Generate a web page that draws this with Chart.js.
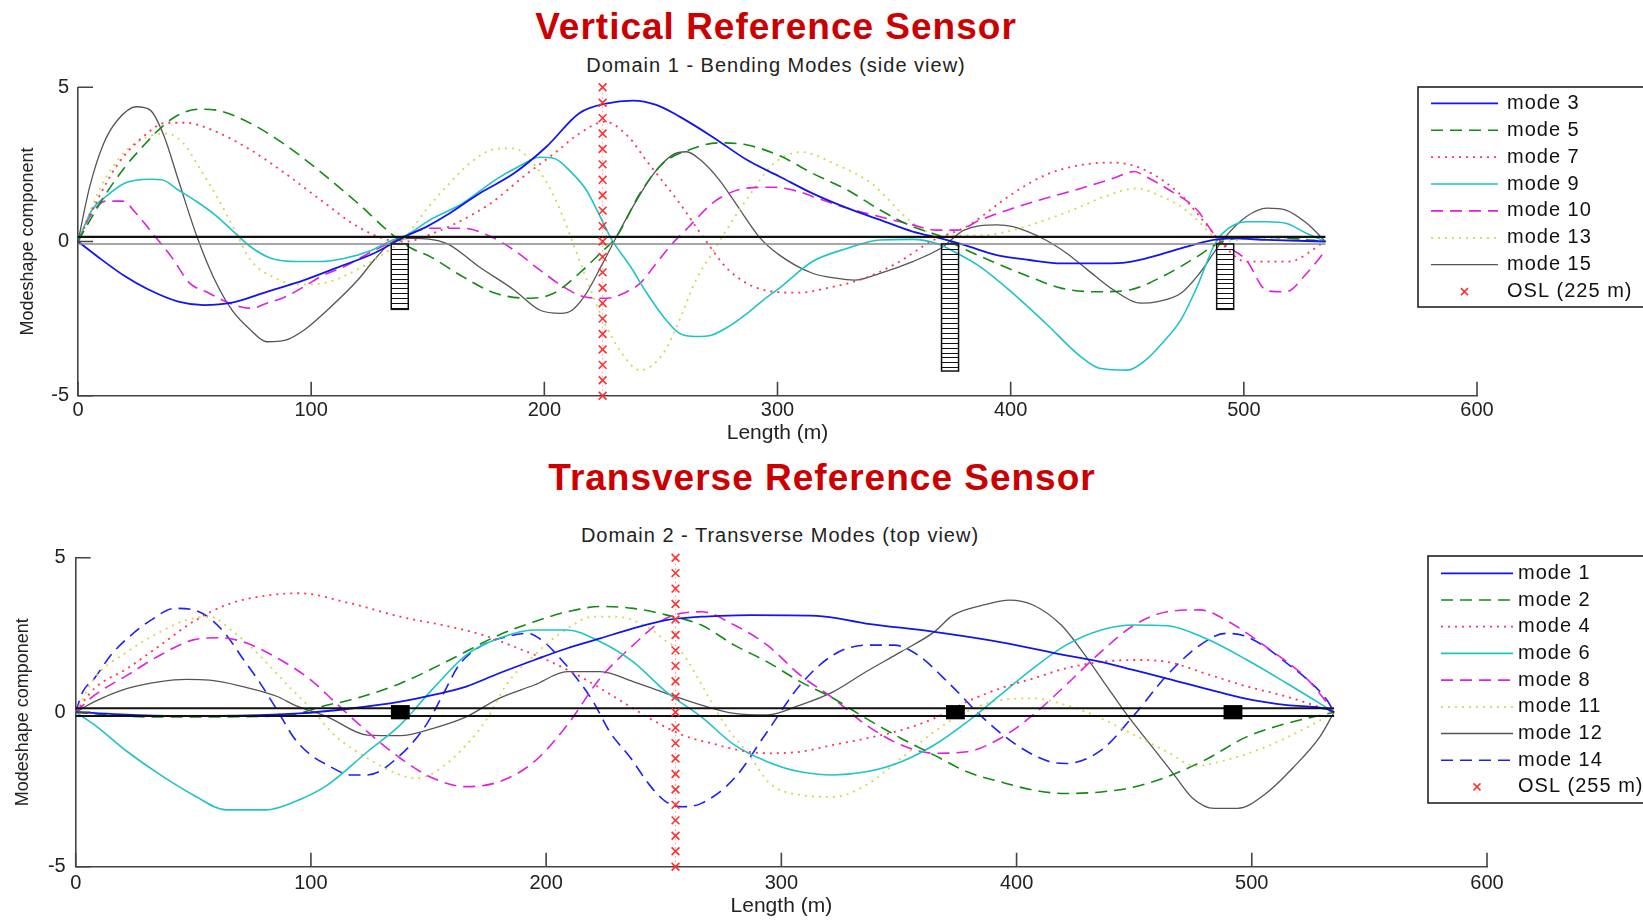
<!DOCTYPE html>
<html lang="en">
<head>
<meta charset="UTF-8">
<title>Reference Sensor Modeshapes</title>
<script src="https://cdn.jsdelivr.net/npm/chart.js"></script>
<style>
    body {
        margin: 0;
        width: 1643px;
        height: 920px;
        overflow: hidden;
        background: #fff;
        position: relative;
        font-family: 'Liberation Sans', Arial, sans-serif;
    }
    .title {
        position: absolute;
        transform: translateX(-50%);
        white-space: nowrap;
        color: #cc0000;
        font-weight: bold;
        font-size: 37px;
        line-height: 37px;
        letter-spacing: 1px;
    }
    .sub {
        position: absolute;
        transform: translateX(-50%);
        white-space: nowrap;
        color: #222;
        font-size: 20px;
        line-height: 20px;
        letter-spacing: 1px;
    }
    canvas { position: absolute; left: 0; }
</style>
</head>
<body>
<div class="title" style="left:776px; top:8px">Vertical Reference Sensor</div>
<div class="sub" style="left:776px; top:55px">Domain 1 - Bending Modes (side view)</div>
<div class="title" style="left:822px; top:459px">Transverse Reference Sensor</div>
<div class="sub" style="left:780px; top:525px">Domain 2 - Transverse Modes (top view)</div>
<canvas id="topChart" width="1643" height="460" style="top:0"></canvas>
<canvas id="bottomChart" width="1643" height="460" style="top:460px"></canvas>

<script>
// ---- Domain 1 (vertical / bending) ----
const m3x = [0, 10, 20, 30, 43, 54, 66, 81, 97, 112, 127, 140, 150, 158, 172, 187, 201, 215, 227, 238, 248, 258, 272, 287, 301, 315, 330, 344, 358, 370, 380, 394, 408, 422, 436, 448, 458, 473, 487, 495, 510, 535];
const m3y = [0, -0.58, -1.12, -1.55, -1.95, -2.06, -1.98, -1.63, -1.25, -0.82, -0.38, 0.15, 0.5, 0.85, 1.55, 2.21, 3.08, 4.16, 4.48, 4.57, 4.43, 4.05, 3.4, 2.64, 2.1, 1.56, 1.08, 0.7, 0.32, 0.1, -0.11, -0.44, -0.6, -0.71, -0.71, -0.69, -0.55, -0.22, 0.05, 0.1, 0.05, 0];

const m5x = [0, 6, 12, 20, 28, 36, 43, 52, 60, 74, 89, 104, 120, 135, 143, 151, 165, 179, 194, 204, 215, 224, 231, 241, 251, 262, 275, 287, 301, 315, 330, 344, 358, 370, 378, 394, 408, 422, 437, 451, 465, 480, 489, 505, 520, 535];
const m5y = [0, 0.8, 1.55, 2.4, 3.1, 3.72, 4.1, 4.29, 4.25, 3.83, 3.13, 2.26, 1.24, 0.21, -0.22, -0.49, -1.14, -1.68, -1.84, -1.68, -1.03, -0.38, 0.16, 1.56, 2.54, 2.97, 3.2, 3.13, 2.78, 2.21, 1.67, 1.02, 0.48, 0.16, -0.17, -0.71, -1.14, -1.52, -1.63, -1.57, -1.14, -0.49, -0.06, 0.15, 0.1, 0];

const m7x = [0, 8, 17, 28, 38, 46, 58, 74, 89, 104, 120, 133, 141, 150, 162, 177, 191, 205, 215, 226, 236, 244, 258, 269, 279, 294, 309, 322, 337, 351, 367, 381, 401, 415, 430, 444, 458, 473, 480, 487, 491, 501, 519, 535];
const m7y = [0, 1.3, 2.5, 3.4, 3.85, 3.85, 3.6, 2.97, 2.2, 1.35, 0.48, 0.05, 0, 0.2, 0.59, 1.24, 2.1, 2.9, 3.5, 3.88, 3.4, 2.6, 1.24, 0.05, -0.92, -1.57, -1.66, -1.5, -1.2, -0.71, 0.05, 0.48, 1.56, 2.16, 2.48, 2.56, 2.3, 1.51, 0.91, 0.26, -0.1, -0.65, -0.65, 0];

const m9x = [0, 6, 12, 20, 31, 36, 43, 51, 58, 66, 74, 83, 94, 104, 114, 126, 135, 141, 151, 165, 179, 189, 198, 204, 212, 218, 224, 229, 237, 244, 251, 258, 265, 272, 279, 287, 294, 301, 315, 330, 344, 358, 368, 377, 387, 401, 415, 430, 438, 450, 458, 465, 473, 480, 487, 491, 501, 510, 518, 527, 535];
const m9y = [0, 1.02, 1.46, 1.89, 2.02, 2.0, 1.67, 1.29, 0.91, 0.37, -0.17, -0.55, -0.65, -0.65, -0.55, -0.28, 0.05, 0.21, 0.7, 1.24, 2.0, 2.43, 2.73, 2.7, 2.21, 1.67, 0.8, 0.05, -0.82, -1.68, -2.43, -2.98, -3.08, -3.03, -2.76, -2.33, -1.89, -1.5, -0.65, -0.22, 0.05, 0.07, -0.06, -0.38, -0.82, -1.68, -2.65, -3.73, -4.11, -4.17, -3.84, -3.3, -2.54, -1.46, -0.17, 0.27, 0.64, 0.64, 0.59, 0.26, 0];

const m10x = [0, 5, 12, 19, 25, 32, 40, 48, 55, 65, 74, 81, 89, 97, 104, 114, 126, 135, 143, 151, 165, 177, 187, 198, 208, 217, 227, 234, 241, 248, 255, 262, 272, 279, 287, 298, 309, 315, 330, 344, 358, 368, 377, 387, 401, 415, 430, 444, 453, 458, 468, 480, 487, 491, 501, 510, 518, 527, 535];
const m10y = [0, 0.8, 1.31, 1.31, 0.91, 0.26, -0.49, -1.36, -1.63, -2.0, -2.17, -2.0, -1.79, -1.46, -1.14, -0.82, -0.33, 0, 0.27, 0.43, 0.43, 0.16, -0.28, -0.92, -1.46, -1.79, -1.84, -1.68, -1.36, -0.71, -0.06, 0.48, 1.24, 1.56, 1.73, 1.76, 1.62, 1.46, 1.08, 0.8, 0.54, 0.37, 0.37, 0.7, 1.08, 1.4, 1.72, 2.05, 2.27, 2.1, 1.67, 1.02, 0.26, -0.06, -0.6, -1.6, -1.63, -1.03, -0.3];

const m13x = [0, 10, 20, 30, 38, 45, 52, 60, 67, 74, 85, 95, 108, 120, 130, 140, 148, 158, 169, 179, 187, 194, 202, 208, 212, 218, 225, 233, 241, 251, 258, 265, 272, 279, 288, 298, 310, 325, 340, 358, 370, 387, 400, 415, 430, 440, 454, 465, 473, 480, 487, 491, 505, 520, 535];
const m13y = [0, 1.8, 2.9, 3.4, 3.5, 3.2, 2.4, 1.4, 0.4, -0.6, -1.2, -1.4, -1.3, -0.9, -0.45, 0.1, 0.9, 1.78, 2.6, 3.0, 3.02, 2.64, 1.78, 0.8, 0, -1.2, -2.5, -3.6, -4.17, -3.63, -2.54, -1.25, -0.38, 0.48, 1.5, 2.5, 2.9, 2.5, 1.9, 0.6, 0.2, 0.2, 0.35, 0.7, 1.13, 1.45, 1.72, 1.45, 1.13, 0.7, 0.16, 0, 0.1, 0.1, 0];

const m15x = [0, 5, 11, 17, 25, 31, 37, 43, 51, 58, 66, 74, 81, 89, 97, 107, 120, 127, 135, 143, 158, 172, 187, 198, 207, 212, 218, 225, 231, 238, 247, 255, 261, 267, 275, 284, 292, 301, 315, 325, 333, 344, 358, 370, 380, 394, 401, 415, 424, 433, 444, 456, 463, 473, 481, 487, 491, 501, 510, 518, 527, 535];
const m15y = [0, 1.77, 3.18, 3.94, 4.37, 4.26, 3.4, 2.0, 0.16, -1.14, -2.22, -2.87, -3.25, -3.2, -2.87, -2.22, -1.25, -0.6, 0, 0.1, -0.06, -0.82, -1.57, -2.22, -2.33, -2.22, -1.68, -0.71, 0.16, 1.13, 2.21, 2.81, 2.91, 2.64, 2.0, 1.02, 0.16, -0.45, -1.03, -1.19, -1.25, -1.03, -0.65, -0.22, 0.37, 0.54, 0.48, 0.05, -0.38, -0.92, -1.57, -2.0, -1.95, -1.68, -1.03, -0.38, 0.05, 0.8, 1.08, 1.02, 0.59, 0];

// ---- Domain 2 (transverse) ----
const m1x = [0, 30, 60, 95, 117, 138, 152, 166, 180, 195, 209, 223, 237, 251, 266, 274, 287, 315, 336, 365, 393, 421, 436, 450, 464, 487, 500, 515, 532, 535];
const m1y = [0, -0.1, -0.12, -0.04, 0.12, 0.34, 0.56, 0.83, 1.26, 1.69, 2.07, 2.39, 2.71, 2.98, 3.09, 3.12, 3.14, 3.12, 2.87, 2.6, 2.27, 1.84, 1.63, 1.36, 1.09, 0.63, 0.4, 0.23, 0.1, 0];

const m2x = [0, 30, 60, 90, 107, 117, 138, 159, 180, 195, 209, 223, 237, 251, 266, 280, 294, 308, 322, 336, 351, 365, 379, 393, 407, 421, 436, 450, 464, 480, 498, 515, 535];
const m2y = [0, -0.15, -0.15, -0.1, 0.23, 0.4, 0.93, 1.69, 2.5, 2.93, 3.25, 3.42, 3.36, 3.15, 2.82, 2.17, 1.63, 0.99, 0.45, -0.2, -0.85, -1.39, -1.93, -2.25, -2.52, -2.63, -2.58, -2.42, -2.09, -1.55, -0.79, -0.36, 0];

const m4x = [0, 8, 22, 36, 50, 64, 78, 95, 117, 138, 159, 173, 188, 202, 216, 230, 244, 258, 273, 280, 294, 308, 322, 336, 351, 365, 379, 393, 407, 421, 436, 450, 464, 480, 498, 515, 535];
const m4y = [0, 0.77, 1.42, 2.17, 2.93, 3.47, 3.74, 3.85, 3.52, 3.09, 2.77, 2.5, 2.07, 1.63, 1.09, 0.45, -0.2, -0.74, -1.06, -1.2, -1.33, -1.28, -1.06, -0.85, -0.58, -0.2, 0.34, 0.77, 1.09, 1.42, 1.63, 1.69, 1.63, 1.26, 0.83, 0.5, 0];

const m6x = [0, 8, 22, 36, 50, 64, 81, 93, 107, 124, 138, 152, 166, 180, 195, 209, 223, 237, 251, 266, 280, 294, 308, 322, 336, 351, 365, 379, 393, 407, 421, 436, 450, 464, 480, 498, 515, 535];
const m6y = [0, -0.41, -1.28, -2.03, -2.68, -3.16, -3.16, -2.9, -2.36, -1.28, -0.41, 0.77, 1.85, 2.39, 2.66, 2.66, 2.28, 1.63, 0.66, -0.15, -1.06, -1.6, -1.93, -2.03, -1.93, -1.6, -1.06, -0.31, 0.55, 1.42, 2.17, 2.66, 2.82, 2.8, 2.4, 1.69, 0.93, 0];

const m8x = [0, 8, 22, 36, 50, 61, 71, 86, 100, 110, 124, 138, 152, 166, 180, 195, 209, 223, 237, 251, 266, 280, 294, 308, 322, 336, 351, 365, 379, 393, 407, 421, 436, 450, 464, 478, 489, 506, 524, 535];
const m8y = [0, 0.55, 1.2, 1.85, 2.34, 2.41, 2.28, 1.74, 1.04, 0.34, -0.63, -1.49, -2.14, -2.41, -2.25, -1.6, -0.41, 1.1, 2.17, 3.04, 3.25, 2.82, 2.17, 1.2, 0.45, -0.41, -1.06, -1.33, -1.28, -0.85, -0.09, 0.88, 1.96, 2.82, 3.25, 3.31, 2.98, 2.12, 1.04, 0];

const m11x = [0, 8, 22, 36, 47, 57, 67, 78, 90, 100, 110, 124, 138, 145, 155, 166, 175, 183, 195, 209, 220, 230, 244, 251, 258, 266, 276, 286, 295, 308, 322, 336, 351, 365, 379, 393, 407, 421, 436, 450, 464, 476, 489, 506, 524, 535];
const m11y = [0, 1.1, 1.96, 2.6, 2.98, 3.09, 2.6, 1.85, 0.88, 0.12, -0.74, -1.49, -2.03, -2.14, -1.82, -1.06, -0.2, 0.88, 1.85, 2.71, 3.09, 3.09, 2.71, 2.3, 1.9, 0.9, -0.4, -1.35, -2.3, -2.68, -2.74, -2.36, -1.49, -0.63, 0.02, 0.39, 0.45, 0.23, -0.2, -0.74, -1.28, -1.74, -1.55, -1.12, -0.47, 0];

const m12x = [0, 8, 22, 36, 47, 57, 71, 86, 93, 107, 124, 138, 152, 166, 180, 195, 209, 223, 237, 251, 266, 280, 294, 308, 322, 336, 351, 365, 373, 386, 397, 407, 419, 428, 438, 447, 457, 467, 475, 484, 494, 506, 518, 529, 535];
const m12y = [0, 0.34, 0.77, 0.99, 1.06, 1.04, 0.83, 0.5, 0.23, -0.15, -0.74, -0.76, -0.52, -0.15, 0.45, 0.88, 1.31, 1.31, 0.99, 0.61, 0.23, -0.04, -0.09, 0.23, 0.66, 1.31, 1.96, 2.6, 3.14, 3.47, 3.63, 3.47, 2.82, 1.96, 0.88, -0.09, -1.06, -2.03, -2.79, -3.11, -3.11, -2.63, -1.76, -0.79, 0];

const m14x = [0, 3, 8, 15, 22, 32, 42, 50, 57, 64, 71, 78, 86, 93, 100, 107, 117, 124, 138, 149, 156, 163, 173, 183, 192, 199, 206, 213, 220, 227, 236, 244, 251, 258, 266, 280, 294, 308, 322, 336, 348, 358, 372, 386, 400, 414, 421, 436, 450, 464, 478, 489, 498, 515, 532, 535];
const m14y = [0, 0.66, 1.1, 1.85, 2.39, 2.98, 3.36, 3.31, 3.04, 2.5, 1.74, 0.99, 0.02, -0.85, -1.39, -1.71, -2.03, -2.03, -1.39, -0.41, 0.55, 1.53, 2.17, 2.44, 2.55, 2.28, 1.74, 1.1, 0.34, -0.63, -1.49, -2.36, -2.9, -3.06, -2.95, -2.14, -0.63, 0.88, 1.85, 2.17, 2.17, 1.85, 0.88, -0.2, -1.06, -1.6, -1.66, -1.23, -0.09, 1.2, 2.17, 2.55, 2.44, 1.58, 0.39, 0];

// sensor location markers, deck and piers
const oslY = [-5, -4.5, -4, -3.5, -3, -2.5, -2, -1.5, -1, -0.5, 0, 0.5, 1, 1.5, 2, 2.5, 3, 3.5, 4, 4.5, 5];
const oslTop = 225;
const oslBottom = 255;
const deckX = [0, 535];
const deckTopUpper = [0.15, 0.15];
const deckTopLower = [-0.08, -0.08];
const deckBotUpper = [0.125, 0.125];
const deckBotLower = [-0.125, -0.125];
const pierX = [138, 374, 492];
const pierDepth = [-2.2, -4.2, -2.2];

const topLabels = ['mode 3', 'mode 5', 'mode 7', 'mode 9', 'mode 10', 'mode 13', 'mode 15', 'OSL (225 m)'];
const bottomLabels = ['mode 1', 'mode 2', 'mode 4', 'mode 6', 'mode 8', 'mode 11', 'mode 12', 'mode 14', 'OSL (255 m)'];

// line styles (matlab-ish)
const STY = {
    blue:    { color: '#1414ee', dash: [], width: 1.8 },
    green:   { color: '#138a13', dash: [12, 7], width: 1.6 },
    red:     { color: '#ff3355', dash: [2, 5], width: 1.8 },
    cyan:    { color: '#1fc4c4', dash: [], width: 1.6 },
    magenta: { color: '#dd22dd', dash: [12, 7], width: 1.6 },
    yellow:  { color: '#d6d650', dash: [2, 5], width: 1.8 },
    gray:    { color: '#555555', dash: [], width: 1.3 },
    blueDash:{ color: '#2020ee', dash: [12, 7], width: 1.6 }
};

Chart.defaults.font.family = "'Liberation Sans', Arial, sans-serif";
Chart.defaults.color = '#222';

const pts = (xs, ys) => xs.map((x, i) => ({ x: x, y: ys[i] }));

function modeSet(label, xs, ys, s) {
    return {
        label: label, data: pts(xs, ys),
        borderColor: s.color, borderWidth: s.width, borderDash: s.dash,
        pointRadius: 0, fill: false, cubicInterpolationMode: 'monotone', order: 2
    };
}

function deckSet(ys, color, width) {
    return { data: pts(deckX, ys), borderColor: color, borderWidth: width, pointRadius: 0, tension: 0, fill: false, order: 1 };
}

function oslSet(label, pos) {
    return {
        label: label, markerOnly: true,
        data: oslY.map(v => ({ x: pos, y: v })),
        borderColor: 'rgba(255,70,70,0.55)', borderWidth: 1, borderDash: [1.5, 3], tension: 0,
        pointStyle: 'crossRot', pointRadius: 5.5, pointBorderColor: '#ff3030', pointBorderWidth: 1.6,
        pointBackgroundColor: '#ff3030', clip: false, fill: false, order: 0
    };
}

// inward matlab tick marks
const inTicks = {
    id: 'inTicks',
    afterDraw(chart) {
        const { ctx, chartArea: a, scales: { x, y } } = chart;
        ctx.save();
        ctx.strokeStyle = '#444';
        ctx.lineWidth = 1.6;
        ctx.beginPath();
        x.ticks.forEach(t => {
            const px = x.getPixelForValue(t.value);
            ctx.moveTo(px, a.bottom);
            ctx.lineTo(px, a.bottom - 14);
        });
        y.ticks.forEach(t => {
            const py = y.getPixelForValue(t.value);
            ctx.moveTo(a.left, py);
            ctx.lineTo(a.left + 15, py);
        });
        ctx.stroke();
        ctx.restore();
    }
};

// bridge piers
const piers = {
    id: 'piers',
    afterDatasetsDraw(chart, args, o) {
        const { ctx, scales: { x, y } } = chart;
        ctx.save();
        ctx.strokeStyle = '#111';
        ctx.fillStyle = '#000';
        o.xs.forEach((p, i) => {
            const l = x.getPixelForValue(p - o.half);
            const r = x.getPixelForValue(p + o.half);
            if (o.block) {
                const t = y.getPixelForValue(o.block);
                const b = y.getPixelForValue(-o.block);
                ctx.fillRect(l, t, r - l, b - t);
                return;
            }
            const t = y.getPixelForValue(o.top);
            const b = y.getPixelForValue(o.depths[i]);
            ctx.lineWidth = 1.5;
            ctx.strokeRect(l, t, r - l, b - t);
            ctx.lineWidth = 1;
            ctx.beginPath();
            for (let v = o.top - o.rung; v > o.depths[i]; v -= o.rung) {
                const py = Math.round(y.getPixelForValue(v)) + 0.5;
                ctx.moveTo(l, py);
                ctx.lineTo(r, py);
            }
            ctx.stroke();
        });
        ctx.restore();
    }
};

// boxed legend on the right
const boxLegend = {
    id: 'boxLegend',
    afterDraw(chart, args, o) {
        const ctx = chart.ctx;
        ctx.save();
        ctx.fillStyle = '#fff';
        ctx.fillRect(o.left, o.top, o.right - o.left, o.bottom - o.top);
        ctx.strokeStyle = '#222';
        ctx.lineWidth = 1.6;
        ctx.strokeRect(o.left, o.top, o.right - o.left, o.bottom - o.top);
        ctx.font = "20px 'Liberation Sans', Arial, sans-serif";
        ctx.letterSpacing = '1px';
        ctx.textBaseline = 'middle';
        chart.data.datasets.filter(d => d.label).forEach((d, i) => {
            const yy = o.first + i * o.step;
            if (d.markerOnly) {
                const cx = (o.x1 + o.x2) / 2;
                ctx.strokeStyle = d.pointBorderColor;
                ctx.lineWidth = 1.5;
                ctx.setLineDash([]);
                ctx.beginPath();
                ctx.moveTo(cx - 3.5, yy - 3.5); ctx.lineTo(cx + 3.5, yy + 3.5);
                ctx.moveTo(cx + 3.5, yy - 3.5); ctx.lineTo(cx - 3.5, yy + 3.5);
                ctx.stroke();
            } else {
                ctx.strokeStyle = d.borderColor;
                ctx.lineWidth = d.borderWidth;
                ctx.setLineDash(d.borderDash);
                ctx.beginPath();
                ctx.moveTo(o.x1, yy); ctx.lineTo(o.x2, yy);
                ctx.stroke();
                ctx.setLineDash([]);
            }
            ctx.fillStyle = '#111';
            ctx.fillText(d.label, o.textX, yy);
        });
        ctx.restore();
    }
};

function makeChart(id, datasets, g) {
    return new Chart(document.getElementById(id), {
        type: 'line',
        data: { datasets: datasets },
        plugins: [piers, inTicks, boxLegend],
        options: {
            responsive: false,
            animation: false,
            events: [],
            devicePixelRatio: 1,
            layout: { padding: { left: 0, right: g.right, top: g.top, bottom: 0 } },
            plugins: {
                legend: { display: false },
                tooltip: { enabled: false },
                piers: g.piers,
                boxLegend: g.legend
            },
            scales: {
                x: {
                    type: 'linear', min: 0, max: 600,
                    afterFit: s => { s.height = g.xH; },
                    ticks: { stepSize: 100, font: { size: 20 }, color: '#222', padding: g.xPad, maxRotation: 0, autoSkip: false },
                    grid: { display: false, drawTicks: false },
                    border: { display: true, color: '#444', width: 1.6 },
                    title: { display: true, text: 'Length (m)', font: { size: 21 }, color: '#222', padding: { top: 0, bottom: g.xTitlePad } }
                },
                y: {
                    type: 'linear', min: -5, max: 5,
                    afterFit: s => { s.width = g.yW; },
                    ticks: { stepSize: 5, font: { size: 20 }, color: '#222', padding: g.yPad },
                    grid: { display: false, drawTicks: false },
                    border: { display: true, color: '#444', width: 1.6 },
                    title: { display: true, text: 'Modeshape component', font: { size: 18 }, color: '#222', padding: { top: g.yTitlePad, bottom: 0 } }
                }
            }
        }
    });
}

makeChart('topChart', [
    modeSet(topLabels[0], m3x, m3y, STY.blue),
    modeSet(topLabels[1], m5x, m5y, STY.green),
    modeSet(topLabels[2], m7x, m7y, STY.red),
    modeSet(topLabels[3], m9x, m9y, STY.cyan),
    modeSet(topLabels[4], m10x, m10y, STY.magenta),
    modeSet(topLabels[5], m13x, m13y, STY.yellow),
    modeSet(topLabels[6], m15x, m15y, STY.gray),
    oslSet(topLabels[7], oslTop),
    deckSet(deckTopUpper, '#111', 2.2),
    deckSet(deckTopLower, '#888', 1.5)
], {
    right: 166, top: 87.3, xH: 64.3, yW: 78,
    xPad: 3, yPad: 9, xTitlePad: 14, yTitlePad: 17,
    piers: { xs: pierX, depths: pierDepth, half: 3.65, top: -0.08, rung: 0.16 },
    legend: { left: 1418, top: 87, right: 1700, bottom: 307, x1: 1431, x2: 1498, textX: 1507, first: 103.3, step: 26.9 }
});

makeChart('bottomChart', [
    modeSet(bottomLabels[0], m1x, m1y, STY.blue),
    modeSet(bottomLabels[1], m2x, m2y, STY.green),
    modeSet(bottomLabels[2], m4x, m4y, STY.red),
    modeSet(bottomLabels[3], m6x, m6y, STY.cyan),
    modeSet(bottomLabels[4], m8x, m8y, STY.magenta),
    modeSet(bottomLabels[5], m11x, m11y, STY.yellow),
    modeSet(bottomLabels[6], m12x, m12y, STY.gray),
    modeSet(bottomLabels[7], m14x, m14y, STY.blueDash),
    oslSet(bottomLabels[8], oslBottom),
    deckSet(deckBotUpper, '#111', 2),
    deckSet(deckBotLower, '#111', 2)
], {
    right: 156, top: 97.7, xH: 53.3, yW: 75.7,
    xPad: 5, yPad: 10, xTitlePad: 1, yTitlePad: 12,
    piers: { xs: pierX, half: 4, block: 0.23 },
    legend: { left: 1428, top: 96, right: 1700, bottom: 343, x1: 1441, x2: 1513, textX: 1518, first: 113.3, step: 26.7 }
});
</script>
</body>
</html>
